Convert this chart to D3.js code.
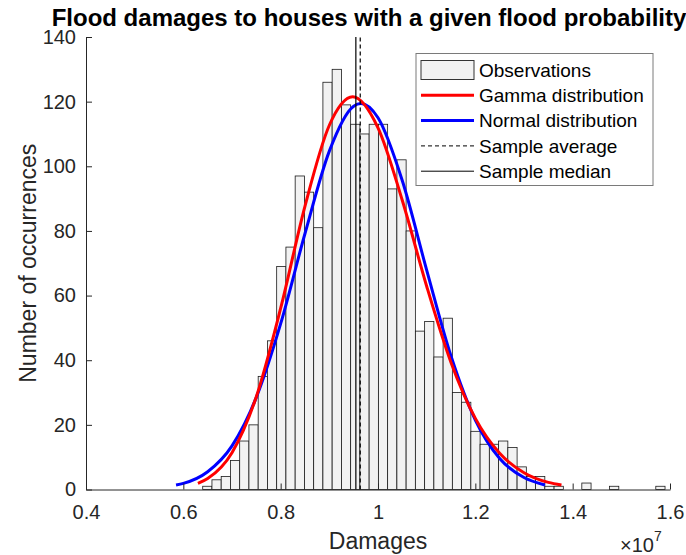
<!DOCTYPE html>
<html>
<head>
<meta charset="utf-8">
<script src="https://cdn.jsdelivr.net/npm/d3@7"></script>
<style>
  body { margin: 0; background: #fff; }
  svg { display: block; font-family: "Liberation Sans", Arial, sans-serif; }
  .axis path, .axis line { stroke: #262626; stroke-width: 1; }
  .axis text { fill: #262626; font-size: 20px; }
</style>
</head>
<body>
<div id="canvas"></div>
<script>
// damages are in units of 1e7
var binLo = 0.6398, binHi = 1.5898;
var counts = [1,3,4,9,15,20,35,46,69,75,
              97,92,81,126,130,119,113,110,113,113,
              93,102,80,49,52,41,53,30,27,18,
              14,14,15,13,7,4,4,1,1,0,
              0,2,0,0,1,0,0,0,0,1];

// fitted curves
var normX = [0.585,0.60,0.65,0.70,0.75,0.80,0.85,0.90,0.95,0.965,1.00,1.05,1.10,1.15,1.20,1.25,1.30,1.343];
var normY = [1.4,1.9,5.5,13.5,28.5,51.3,79.2,104.7,118.6,119.4,115,95.5,67.9,41.3,21.5,9.6,3.7,1.4];
var gammaX = [0.63,0.65,0.70,0.75,0.80,0.85,0.90,0.948,1.00,1.05,1.10,1.15,1.20,1.25,1.30,1.35,1.377];
var gammaY = [1.9,3.4,11.4,28.7,56.1,87.7,112.7,121.5,111.9,89.4,62.9,39.3,22.0,11.2,5.2,2.2,1.4];

var sampleMean = 0.9635, sampleMedian = 0.9545;

var xTicks = [0.4,0.6,0.8,1,1.2,1.4,1.6];
var yTicks = [0,20,40,60,80,100,120,140];
var legendLabels = ['Observations','Gamma distribution','Normal distribution','Sample average','Sample median'];

var W = 686, H = 555;
var m = {t:37, r:16, b:65.5, l:86};

var svg = d3.select('#canvas').append('svg')
    .attr('width', W).attr('height', H);

var x = d3.scaleLinear().domain([0.4,1.6]).range([m.l, W - m.r]);
var y = d3.scaleLinear().domain([0,140]).range([H - m.b, m.t]);

// histogram
var bw = (binHi - binLo) / counts.length;
var bins = counts.map(function(c,i){ return {x0: binLo + i*bw, x1: binLo + (i+1)*bw, n: c}; });

svg.append('g').selectAll('rect')
    .data(bins.filter(function(d){ return d.n > 0; }))
    .enter().append('rect')
    .attr('x', function(d){ return x(d.x0); })
    .attr('y', function(d){ return y(d.n); })
    .attr('width', function(d){ return x(d.x1) - x(d.x0); })
    .attr('height', function(d){ return y(0) - y(d.n); })
    .style('fill', '#f2f2f2')
    .style('stroke', '#1a1a1a')
    .style('stroke-width', 0.8);

var line = d3.line()
    .x(function(d){ return x(d[0]); })
    .y(function(d){ return y(d[1]); })
    .curve(d3.curveMonotoneX);

svg.append('path')
    .attr('d', line(d3.zip(normX, normY)))
    .style('fill','none').style('stroke','#0000ff').style('stroke-width',3);

svg.append('path')
    .attr('d', line(d3.zip(gammaX, gammaY)))
    .style('fill','none').style('stroke','#ff0000').style('stroke-width',3);

svg.append('line')
    .attr('x1', x(sampleMean)).attr('x2', x(sampleMean))
    .attr('y1', y(0)).attr('y2', y(140))
    .style('stroke','#000').style('stroke-width',1.2).style('stroke-dasharray','4,3');

svg.append('line')
    .attr('x1', x(sampleMedian)).attr('x2', x(sampleMedian))
    .attr('y1', y(0)).attr('y2', y(140))
    .style('stroke','#000').style('stroke-width',1.2);

// axes (ticks inside, MATLAB style)
svg.append('g').attr('class','axis')
    .attr('transform','translate(0,' + y(0) + ')')
    .call(d3.axisBottom(x).tickValues(xTicks).tickSizeInner(-6).tickSizeOuter(0).tickPadding(15)
        .tickFormat(function(d){ return d3.format('~g')(d); }));

svg.append('g').attr('class','axis')
    .attr('transform','translate(' + x(0.4) + ',0)')
    .call(d3.axisLeft(y).tickValues(yTicks).tickSizeInner(-6).tickSizeOuter(0).tickPadding(10));

// labels
svg.append('text')
    .attr('x', 369).attr('y', 26)
    .attr('text-anchor','middle')
    .style('font-weight','bold').style('font-size','24px').style('fill','#000')
    .text('Flood damages to houses with a given flood probability');

svg.append('text')
    .attr('x', (x(0.4) + x(1.6)) / 2).attr('y', 549)
    .attr('text-anchor','middle')
    .style('font-size','23px').style('fill','#262626')
    .text('Damages');

var ex = svg.append('text')
    .attr('x', 620).attr('y', 552)
    .style('font-size','20px').style('fill','#262626');
ex.append('tspan').text('\u00d710');
ex.append('tspan').attr('dy', -11).style('font-size','14px').text('7');

svg.append('text')
    .attr('transform','translate(36,' + (y(0) + y(140)) / 2 + ') rotate(-90)')
    .attr('text-anchor','middle')
    .style('font-size','23px').style('fill','#262626')
    .text('Number of occurrences');

// legend
var lg = svg.append('g').attr('transform','translate(416,53.5)');
lg.append('rect')
    .attr('width', 237).attr('height', 132)
    .style('fill','#fff').style('stroke','#7a7a7a').style('stroke-width',1);

var rows = lg.selectAll('g.row')
    .data(legendLabels)
    .enter().append('g').attr('class','row')
    .attr('transform', function(d,i){ return 'translate(0,' + (16.5 + i*25.3) + ')'; });

rows.append('text')
    .attr('x', 63).attr('dy','0.35em')
    .style('font-size','19px').style('fill','#000')
    .text(function(d){ return d; });

rows.each(function(d,i){
  var g = d3.select(this);
  if (i === 0) {
    g.append('rect').attr('x',5).attr('y',-9.5).attr('width',53).attr('height',19)
      .style('fill','#f2f2f2').style('stroke','#333').style('stroke-width',1);
  } else {
    var s = g.append('line').attr('x1',5).attr('x2',58).attr('y1',0).attr('y2',0);
    if (i === 1) s.style('stroke','#ff0000').style('stroke-width',3);
    if (i === 2) s.style('stroke','#0000ff').style('stroke-width',3);
    if (i === 3) s.style('stroke','#000').style('stroke-width',1).style('stroke-dasharray','4,3');
    if (i === 4) s.style('stroke','#000').style('stroke-width',1);
  }
});
</script>
</body>
</html>
